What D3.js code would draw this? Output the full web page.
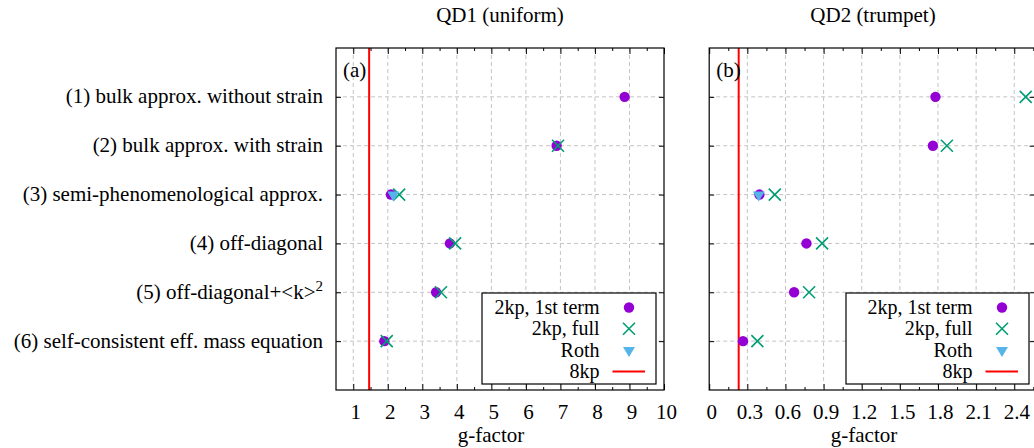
<!DOCTYPE html>
<html><head><meta charset="utf-8">
<script src="https://cdn.jsdelivr.net/npm/d3@7"></script>
<style>
body{margin:0;background:#fff}
text{font-family:"Liberation Serif","Times New Roman",serif;fill:#000}
</style>
</head><body>
<svg id="c" width="1034" height="448"></svg>
<script>
// ---------- data ----------
const categories = [
  "(1) bulk approx. without strain",
  "(2) bulk approx. with strain",
  "(3) semi-phenomenological approx.",
  "(4) off-diagonal",
  "(5) off-diagonal+<k>",
  "(6) self-consistent eff. mass equation"
];
const rowIndex = [1, 2, 3, 4, 5, 6];
const qd1First = [8.86, 6.89, 2.09, 3.80, 3.40, 1.90];
const qd1Full  = [null, 6.93, 2.33, 3.95, 3.54, 1.97];
const qd1Roth  = [null, null, 2.16, null, null, null];
const qd1EightKp = 1.46;
const qd2First = [1.78, 1.76, 0.395, 0.765, 0.668, 0.266];
const qd2Full  = [2.49, 1.87, 0.516, 0.888, 0.786, 0.379];
const qd2Roth  = [null, null, 0.39, null, null, null];
const qd2EightKp = 0.232;
const qd1Ticks = [1, 2, 3, 4, 5, 6, 7, 8, 9, 10];
const qd1TickLabels = ["1","2","3","4","5","6","7","8","9","10"];
const qd1MinorTicks = [1.5, 2.5, 3.5, 4.5, 5.5, 6.5, 7.5, 8.5, 9.5];
const qd2Ticks = [0, 0.3, 0.6, 0.9, 1.2, 1.5, 1.8, 2.1, 2.4];
const qd2TickLabels = ["0","0.3","0.6","0.9","1.2","1.5","1.8","2.1","2.4"];
const qd2MinorTicks = [0.15, 0.45, 0.75, 1.05, 1.35, 1.65, 1.95, 2.25, 2.55];
const titles = ["QD1 (uniform)", "QD2 (trumpet)"];
const panelTags = ["(a)", "(b)"];
const legendLabels = ["2kp, 1st term", "2kp, full", "Roth", "8kp"];

// ---------- styles ----------
const C_FIRST = "#9400d3", C_FULL = "#009e73", C_ROTH = "#56b4e9", C_8KP = "#ff0000";
const FS = 21, LFS = 20;
const svg = d3.select("#c");

const panels = [
  {left: 336, right: 664, domain: [0.5, 10], ticks: qd1Ticks, labels: qd1TickLabels, minor: qd1MinorTicks,
   first: qd1First, full: qd1Full, roth: qd1Roth, kp8: qd1EightKp, title: titles[0], tag: panelTags[0],
   xlabelX: 491, titleX: 500, legend: {x0: 482, x1: 656}, showCats: true},
  {left: 709.2, right: 1034.6, domain: [0, 2.56], ticks: qd2Ticks, labels: qd2TickLabels, minor: qd2MinorTicks,
   first: qd2First, full: qd2Full, roth: qd2Roth, kp8: qd2EightKp, title: titles[1], tag: panelTags[1],
   xlabelX: 864, titleX: 873, legend: {x0: 846, x1: 1029}, showCats: false}
];
const plotTop = 48, plotBottom = 390;
const y = d3.scaleLinear().domain([0, 7]).range([plotTop, plotBottom]);

function crossPath(s){ return `M${-s},${-s}L${s},${s}M${-s},${s}L${s},${-s}`; }
function triPath(){ return "M-6,-4L6,-4L0,6Z"; }

panels.forEach((p, pi) => {
  const x = d3.scaleLinear().domain(p.domain).range([p.left, p.right]);
  const g = svg.append("g");
  const clipId = "clip" + pi;
  svg.append("clipPath").attr("id", clipId).append("rect")
    .attr("x", p.left).attr("y", plotTop).attr("width", p.right - p.left).attr("height", plotBottom - plotTop);

  // grid
  const grid = g.append("g").attr("stroke", "#c4c4c4").attr("stroke-width", 1).attr("stroke-dasharray", "4,3");
  grid.selectAll("line.gx").data(p.ticks.filter(t => x(t) > p.left + 1 && x(t) < p.right - 1)).join("line")
    .attr("class", "gx")
    .attr("x1", d => x(d)).attr("x2", d => x(d)).attr("y1", plotTop).attr("y2", plotBottom);
  grid.selectAll("line.gy").data(rowIndex).join("line").attr("class","gy")
    .attr("x1", p.left).attr("x2", p.right).attr("y1", d => y(d)).attr("y2", d => y(d));

  // axes
  const ax = d3.axisBottom(x).tickValues(p.ticks).tickSize(-6).tickPadding(14)
    .tickFormat((d, i) => p.labels[i]);
  const gb = g.append("g").attr("transform", `translate(0,${plotBottom})`).call(ax);
  gb.selectAll("text").attr("font-size", FS).attr("dx", 2).style("font-family", '"Liberation Serif",serif');
  g.append("g").attr("transform", `translate(0,${plotBottom})`)
    .call(d3.axisBottom(x).tickValues(p.minor.filter(t => t < p.domain[1])).tickSize(-3).tickFormat(""));
  g.append("g").attr("transform", `translate(0,${plotTop})`)
    .call(d3.axisTop(x).tickValues(p.ticks).tickSize(-6).tickFormat(""));
  g.append("g").attr("transform", `translate(0,${plotTop})`)
    .call(d3.axisTop(x).tickValues(p.minor.filter(t => t < p.domain[1])).tickSize(-3).tickFormat(""));
  const al = d3.axisLeft(y).tickValues(rowIndex).tickSize(-5).tickPadding(13)
    .tickFormat(d => p.showCats ? categories[d - 1] : "");
  const gl = g.append("g").attr("transform", `translate(${p.left},0)`).call(al);
  gl.selectAll("text").attr("font-size", FS).attr("dy", "0.28em").style("font-family", '"Liberation Serif",serif');
  if (p.showCats) {
    gl.selectAll("text").filter(d => d === 5).each(function(){
      d3.select(this).append("tspan").attr("dy", "-0.5em").attr("font-size", 15).text("2");
    });
  }
  g.append("g").attr("transform", `translate(${p.right},0)`)
    .call(d3.axisRight(y).tickValues(rowIndex).tickSize(-5).tickFormat(""));
  g.selectAll(".domain").remove();
  g.selectAll(".tick line").attr("stroke", "#000");

  // 8kp line
  g.append("line").attr("x1", x(p.kp8)).attr("x2", x(p.kp8)).attr("y1", plotTop).attr("y2", plotBottom)
    .attr("stroke", C_8KP).attr("stroke-width", 2);

  // points
  const pts = g.append("g").attr("clip-path", `url(#${clipId})`);
  const rowsFirst = rowIndex.map((r, i) => ({r, v: p.first[i]})).filter(d => d.v != null);
  const rowsFull = rowIndex.map((r, i) => ({r, v: p.full[i]})).filter(d => d.v != null);
  const rowsRoth = rowIndex.map((r, i) => ({r, v: p.roth[i]})).filter(d => d.v != null);
  pts.selectAll("circle").data(rowsFirst).join("circle")
    .attr("cx", d => x(d.v)).attr("cy", d => y(d.r)).attr("r", 5.2).attr("fill", C_FIRST);
  pts.selectAll("path.full").data(rowsFull).join("path").attr("class", "full")
    .attr("d", crossPath(6)).attr("transform", d => `translate(${x(d.v)},${y(d.r)})`)
    .attr("stroke", C_FULL).attr("stroke-width", 1.6).attr("fill", "none");
  pts.selectAll("path.roth").data(rowsRoth).join("path").attr("class", "roth")
    .attr("d", triPath()).attr("transform", d => `translate(${x(d.v)},${y(d.r) + 1})`)
    .attr("fill", C_ROTH);

  // border
  g.append("rect").attr("x", p.left).attr("y", plotTop).attr("width", p.right - p.left).attr("height", plotBottom - plotTop)
    .attr("fill", "none").attr("stroke", "#000").attr("stroke-width", 1.2);

  // legend
  const L = p.legend, ly0 = 293, ly1 = 384;
  const lg = g.append("g");
  lg.append("rect").attr("x", L.x0).attr("y", ly0).attr("width", L.x1 - L.x0).attr("height", ly1 - ly0)
    .attr("fill", "#fff").attr("stroke", "#000").attr("stroke-width", 1.2);
  const textR = L.x1 - 56.5, symX = L.x1 - 27;
  const rowY = i => 307.5 + i * 21.3;
  legendLabels.forEach((lab, i) => {
    lg.append("text").attr("x", textR).attr("y", rowY(i) + 6.5).attr("text-anchor", "end")
      .attr("font-size", LFS).text(lab);
  });
  lg.append("circle").attr("cx", symX).attr("cy", rowY(0)).attr("r", 5.2).attr("fill", C_FIRST);
  lg.append("path").attr("d", crossPath(6)).attr("transform", `translate(${symX},${rowY(1)})`)
    .attr("stroke", C_FULL).attr("stroke-width", 1.6).attr("fill", "none");
  lg.append("path").attr("d", triPath()).attr("transform", `translate(${symX},${rowY(2) + 1})`).attr("fill", C_ROTH);
  lg.append("line").attr("x1", L.x1 - 43.5).attr("x2", L.x1 - 11).attr("y1", rowY(3)).attr("y2", rowY(3))
    .attr("stroke", C_8KP).attr("stroke-width", 2);

  // title, tag, xlabel
  g.append("text").attr("x", p.titleX).attr("y", 22).attr("text-anchor", "middle").attr("font-size", FS).text(p.title);
  g.append("text").attr("x", p.left + 7).attr("y", 77).attr("font-size", FS).text(p.tag);
  g.append("text").attr("x", p.xlabelX).attr("y", 442).attr("text-anchor", "middle").attr("font-size", FS).text("g-factor");
});
</script>
</body></html>
